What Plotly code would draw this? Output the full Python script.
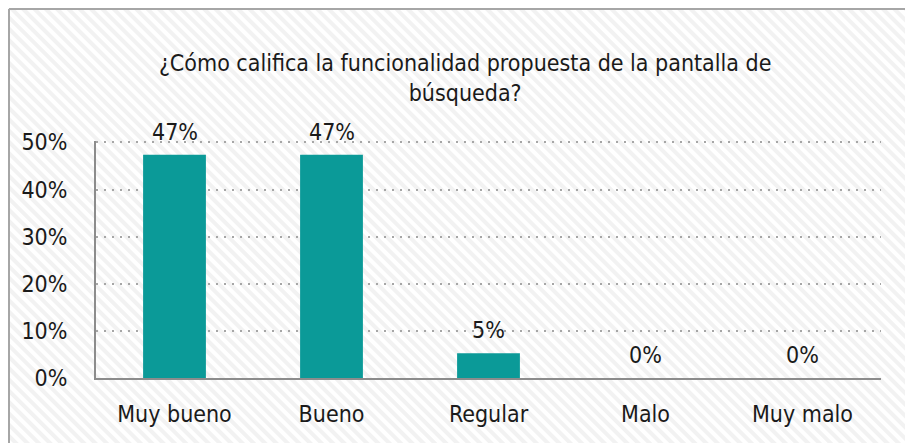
import base64
import plotly.graph_objects as go

categories = ["Muy bueno", "Bueno", "Regular", "Malo", "Muy malo"]
values = [9 / 19, 9 / 19, 1 / 19, 0.0, 0.0]
labels = ["47%", "47%", "5%", "0%", "0%"]
title_text = "¿Cómo califica la funcionalidad propuesta de la pantalla de<br>búsqueda?"

FONT = "Liberation Sans Narrow, DejaVu Sans Condensed, sans-serif"
BAR = "#0B9A98"

W, H = 905, 443
L, R, T, B = 96, 24, 141, 65
PW, PH = W - L - R, H - T - B
OFF = 8  # chart frame starts 8px in from the top-left corner

svg = (
    '<svg xmlns="http://www.w3.org/2000/svg" width="897" height="435">'
    '<defs><pattern id="p" width="8" height="8" patternUnits="userSpaceOnUse" '
    'patternTransform="rotate(-45)">'
    '<rect width="8" height="8" fill="#FFFFFF"/>'
    '<rect width="4" height="8" fill="#F2F2F2"/></pattern></defs>'
    '<rect width="897" height="435" fill="url(#p)"/></svg>'
)
src = "data:image/svg+xml;base64," + base64.b64encode(svg.encode()).decode()

fig = go.Figure()
fig.add_trace(go.Bar(x=categories, y=values, marker=dict(color=BAR, line=dict(width=0)),
                     hoverinfo="skip"))

for c, v, t in zip(categories, values, labels):
    fig.add_annotation(x=c, y=v, text=t, showarrow=False, yanchor="bottom", yshift=8,
                       font=dict(family=FONT, size=23, color="#1A1A1A"))

px = lambda p: p / PW
py = lambda p: p / PH

fig.update_layout(
    width=W, height=H,
    margin=dict(l=L, r=R, t=T, b=B),
    paper_bgcolor="white",
    plot_bgcolor="rgba(0,0,0,0)",
    bargap=0.6,
    showlegend=False,
    hovermode=False,
    font=dict(family=FONT, size=23, color="#1A1A1A"),
    title=dict(text=title_text, x=0.514, xanchor="center", y=0.84, yanchor="middle",
               font=dict(family=FONT, size=23, color="#1A1A1A")),
    images=[dict(source=src, xref="paper", yref="paper", x=-px(L - OFF),
                 y=1 + py(T - OFF), sizex=(W - OFF) / PW, sizey=(H - OFF) / PH,
                 sizing="stretch", layer="below", xanchor="left", yanchor="top")],
    shapes=[
        dict(type="line", xref="paper", yref="paper", x0=-px(L - OFF - 1), x1=1 + px(R),
             y0=1 + py(T - OFF - 1), y1=1 + py(T - OFF - 1),
             line=dict(color="#A6A6A6", width=2), layer="above"),
        dict(type="line", xref="paper", yref="paper", x0=-px(L - OFF - 1),
             x1=-px(L - OFF - 1), y0=-py(B), y1=1 + py(T - OFF - 1),
             line=dict(color="#A6A6A6", width=2), layer="above"),
    ],
)
fig.update_xaxes(showline=True, linecolor="#8C8C8C", linewidth=2, ticks="",
                 ticklabelstandoff=14, showgrid=False)
fig.update_yaxes(range=[0, 0.503], dtick=0.1, tickformat=".0%", showline=True,
                 linecolor="#8C8C8C", linewidth=2, showgrid=True, gridcolor="#A6A6A6",
                 gridwidth=1.5, griddash="2px,6px", zeroline=False, ticklabelstandoff=22,
                 ticks="")

fig.write_html("out.html",
               config={"displayModeBar": False},
               post_script="document.body.style.margin='0';"
                           "document.documentElement.style.overflow='hidden';"
                           "document.body.style.overflow='hidden';")
